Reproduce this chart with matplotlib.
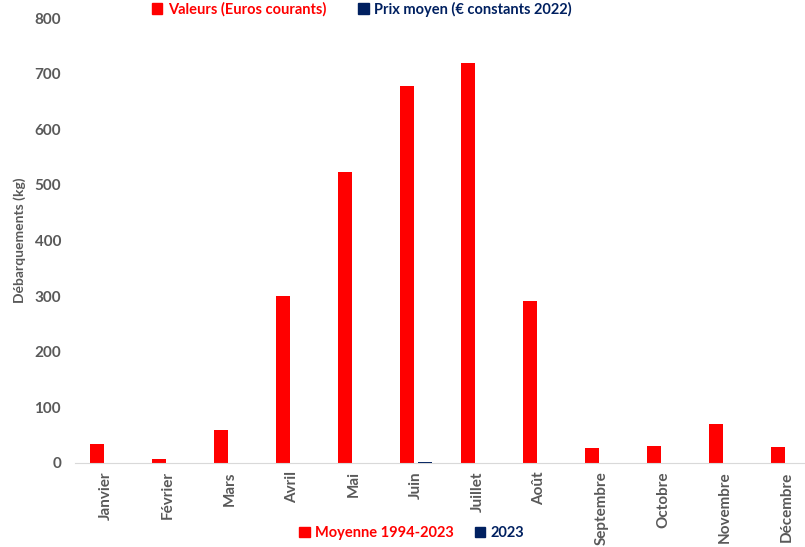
import matplotlib.pyplot as plt
import numpy as np
from matplotlib.patches import Patch

mois = ["Janvier", "Février", "Mars", "Avril", "Mai", "Juin", "Juillet",
        "Août", "Septembre", "Octobre", "Novembre", "Décembre"]
moyenne = [34, 8, 59, 300, 523, 677, 720, 291, 27, 30, 70, 29]
annee_2023 = [0, 0, 0, 0, 0, 1, 0, 0, 0, 0, 0, 0]
yticks = [0, 100, 200, 300, 400, 500, 600, 700, 800]

rouge = "#ff0000"
marine = "#002060"
gris = "#595959"

plt.rcParams['font.family'] = ['Lato', 'DejaVu Sans']
plt.rcParams['font.weight'] = 'bold'

fig = plt.figure(figsize=(8.05, 5.47), dpi=100)
ax = fig.add_axes([75 / 805, 84 / 547, 743 / 805, 445 / 547])

x = np.arange(len(mois))
w = 0.226
ax.bar(x - 0.145, moyenne, width=w, color=rouge)
ax.bar(x + 0.145, annee_2023, width=w, color=marine)

ax.set_xlim(-0.5, len(mois) - 0.5)
ax.set_ylim(0, 800)
ax.set_yticks(yticks)
ax.set_xticks(x)
ax.set_xticklabels(mois, rotation=90, color=gris, fontsize=11, fontweight='bold')
ax.tick_params(axis='y', colors=gris, labelsize=11, length=0, pad=10)
ax.tick_params(axis='x', length=0, pad=6)
for lab in ax.get_yticklabels():
    lab.set_fontweight('bold')
ax.set_ylabel("Débarquements (kg)", color=gris, fontsize=10, fontweight='bold', labelpad=6)

for s in ['top', 'right', 'left']:
    ax.spines[s].set_visible(False)
ax.spines['bottom'].set_color('#d9d9d9')

# legende du bas
leg = fig.legend(handles=[Patch(color=rouge, label="Moyenne 1994-2023"),
                          Patch(color=marine, label="2023")],
                 loc='center', bbox_to_anchor=(412 / 805, 1 - 533 / 547), ncol=2,
                 frameon=False, fontsize=10.5, handlelength=0.7, handleheight=0.7,
                 handletextpad=0.4, columnspacing=1.4)
for t, c in zip(leg.get_texts(), [rouge, marine]):
    t.set_color(c)

# legende du haut
leg2 = fig.legend(handles=[Patch(color=rouge, label="Valeurs (Euros courants)"),
                           Patch(color=marine, label="Prix moyen (€ constants 2022)")],
                  loc='upper center', bbox_to_anchor=(362 / 805, 1.0), ncol=2,
                  frameon=False, fontsize=10.5, handlelength=0.7, handleheight=0.7,
                  handletextpad=0.4, columnspacing=2.2, borderaxespad=0, borderpad=0.1)
for t, c in zip(leg2.get_texts(), [rouge, marine]):
    t.set_color(c)

fig.savefig("out.png", dpi=100)
